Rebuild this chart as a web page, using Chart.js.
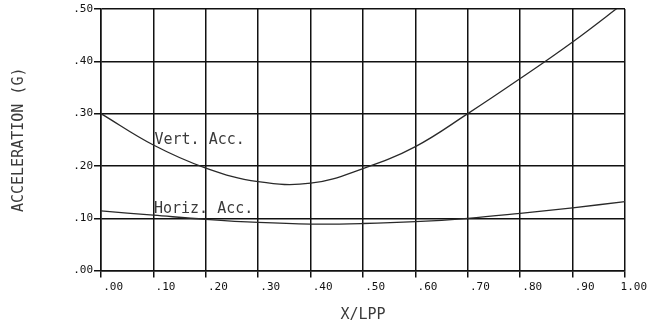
<!DOCTYPE html>
<html>
<head>
<meta charset="utf-8">
<script src="https://cdn.jsdelivr.net/npm/chart.js@4/dist/chart.umd.min.js"></script>
<style>
  html, body { margin: 0; padding: 0; background: #fff; }
  #c { display: block; }
</style>
</head>
<body>
<canvas id="c" width="650" height="324"></canvas>
<script>
// Ship acceleration along the hull length (X/LPP)
const vertX    = [0.00, 0.10, 0.20, 0.30, 0.40, 0.50, 0.60, 0.70, 0.80, 0.90, 1.00];
const vertAcc  = [0.300, 0.240, 0.196, 0.170, 0.167, 0.195, 0.237, 0.300, 0.367, 0.437, 0.513];

const horizX   = [0.00, 0.10, 0.20, 0.30, 0.40, 0.50, 0.60, 0.70, 0.80, 0.90, 1.00];
const horizAcc = [0.114, 0.106, 0.098, 0.092, 0.089, 0.090, 0.0935, 0.100, 0.1095, 0.120, 0.132];

const xTickLabels = ['.00', '.10', '.20', '.30', '.40', '.50', '.60', '.70', '.80', '.90', '1.00'];
const yTickLabels = ['.00', '.10', '.20', '.30', '.40', '.50'];

const curveNames = ['Vert. Acc.', 'Horiz. Acc.'];

const MONO = 'DejaVu Sans Mono';
const INK = '#111';
const SOFT_INK = '#3a3a3a';

// Curve captions placed in data coordinates
const captions = [
  { text: curveNames[0], x: 0.102, y: 0.250 },
  { text: curveNames[1], x: 0.101, y: 0.118 }
];

const captionPlugin = {
  id: 'curveCaptions',
  afterDatasetsDraw(chart) {
    const { ctx, scales: { x, y } } = chart;
    ctx.save();
    ctx.fillStyle = SOFT_INK;
    ctx.font = '15px "' + MONO + '"';
    ctx.textAlign = 'left';
    ctx.textBaseline = 'middle';
    captions.forEach(c => {
      ctx.fillText(c.text, x.getPixelForValue(c.x), y.getPixelForValue(c.y));
    });
    ctx.restore();
  }
};

const toPoints = (xs, ys) => xs.map((v, i) => ({ x: v, y: ys[i] }));

new Chart(document.getElementById('c'), {
  type: 'line',
  data: {
    datasets: [
      {
        label: curveNames[0],
        data: toPoints(vertX, vertAcc),
        borderColor: '#2a2a2a',
        borderWidth: 1.3,
        tension: 0.4,
        pointRadius: 0,
        fill: false
      },
      {
        label: curveNames[1],
        data: toPoints(horizX, horizAcc),
        borderColor: '#2a2a2a',
        borderWidth: 1.3,
        tension: 0.4,
        pointRadius: 0,
        fill: false
      }
    ]
  },
  options: {
    responsive: false,
    animation: false,
    devicePixelRatio: 1,
    layout: { padding: { top: 9, right: 25, bottom: 0, left: 0 } },
    plugins: {
      legend: { display: false },
      tooltip: { enabled: false }
    },
    scales: {
      x: {
        type: 'linear',
        min: 0,
        max: 1,
        border: { display: true, color: INK, width: 1.5 },
        grid: { color: INK, lineWidth: 1.5, tickLength: 7, drawTicks: true },
        ticks: {
          stepSize: 0.1,
          autoSkip: false,
          maxRotation: 0,
          minRotation: 0,
          align: 'end',
          labelOffset: 22,
          padding: 3,
          color: INK,
          font: { family: MONO, size: 11 },
          callback: (v, i) => xTickLabels[i]
        },
        title: {
          display: true,
          text: 'X/LPP',
          color: SOFT_INK,
          font: { family: MONO, size: 15, lineHeight: 1 },
          padding: { top: 0, bottom: 1 }
        },
        afterFit: s => { s.height = 53.4; }
      },
      y: {
        type: 'linear',
        min: 0,
        max: 0.5,
        border: { display: true, color: INK, width: 1.5 },
        grid: { color: INK, lineWidth: 1.5, tickLength: 7, drawTicks: true },
        ticks: {
          stepSize: 0.1,
          autoSkip: false,
          padding: 1,
          color: INK,
          font: { family: MONO, size: 11 },
          callback: (v, i) => yTickLabels[i]
        },
        title: {
          display: true,
          text: 'ACCELERATION (G)',
          color: SOFT_INK,
          font: { family: MONO, size: 15, lineHeight: 1 },
          padding: { top: 11.5, bottom: 0 }
        },
        afterFit: s => { s.width = 101; }
      }
    }
  },
  plugins: [captionPlugin]
});
</script>
</body>
</html>
